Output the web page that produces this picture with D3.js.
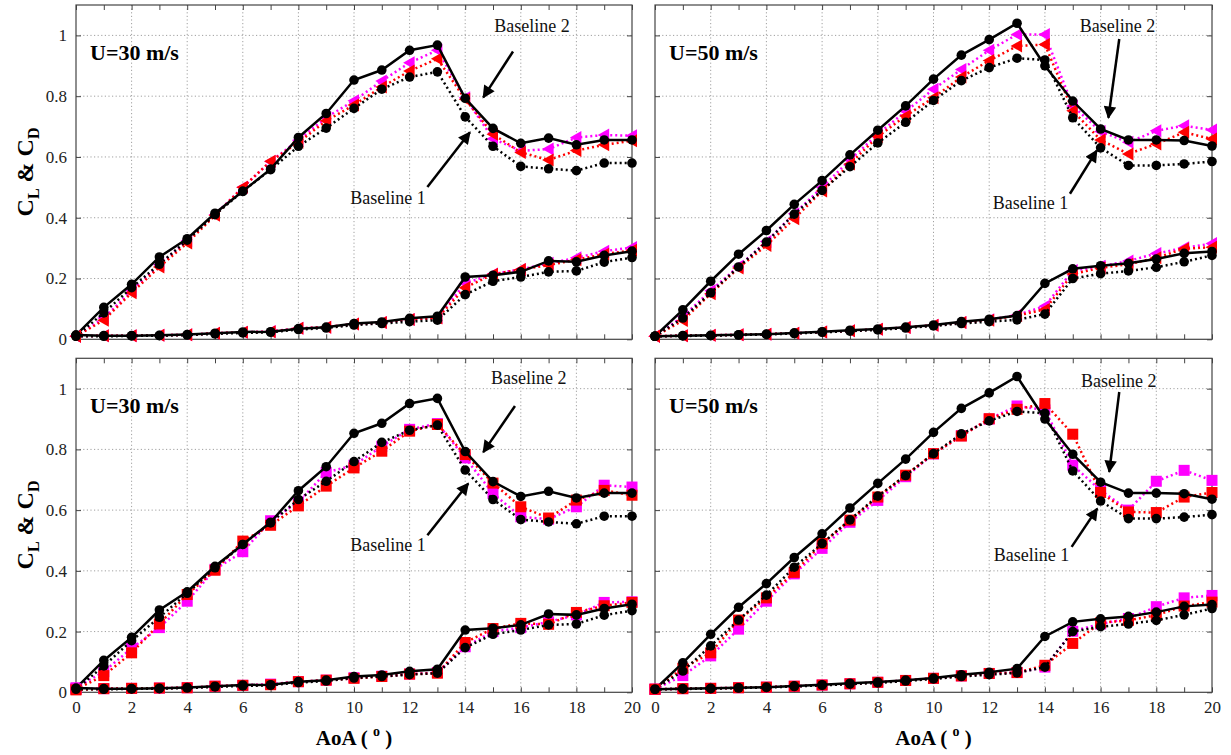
<!DOCTYPE html>
<html>
<head>
<meta charset="utf-8">
<script src="https://cdn.jsdelivr.net/npm/d3@7/dist/d3.min.js"></script>
<style>
  html, body { margin: 0; padding: 0; background: #fff; }
  svg { display: block; }
</style>
</head>
<body>
<svg id="chart" width="1231" height="755"></svg>
<script>
const SERIF = '"Liberation Serif", "Times New Roman", "DejaVu Serif", serif';

// Angle of attack (degrees)
const aoa = d3.range(0, 21);

// ---- U = 30 m/s baselines ----
const base1Cl30 = [0.01, 0.087, 0.17, 0.247, 0.326, 0.41, 0.487, 0.558, 0.635, 0.695, 0.76, 0.823, 0.863, 0.88, 0.732, 0.635, 0.569, 0.561, 0.555, 0.58, 0.58];
const base2Cl30 = [0.014, 0.105, 0.181, 0.271, 0.331, 0.415, 0.487, 0.56, 0.664, 0.743, 0.853, 0.886, 0.951, 0.968, 0.793, 0.694, 0.645, 0.662, 0.64, 0.656, 0.656];
const base1Cd30 = [0.01, 0.01, 0.011, 0.012, 0.014, 0.018, 0.021, 0.023, 0.032, 0.037, 0.047, 0.052, 0.058, 0.063, 0.147, 0.191, 0.205, 0.222, 0.225, 0.254, 0.269];
const base2Cd30 = [0.014, 0.012, 0.012, 0.013, 0.016, 0.02, 0.024, 0.025, 0.035, 0.04, 0.052, 0.057, 0.069, 0.076, 0.205, 0.211, 0.222, 0.258, 0.255, 0.276, 0.29];

// ---- U = 50 m/s baselines ----
const base1Cl50 = [0.01, 0.07, 0.153, 0.238, 0.32, 0.412, 0.49, 0.568, 0.646, 0.714, 0.786, 0.851, 0.894, 0.925, 0.919, 0.729, 0.63, 0.572, 0.572, 0.577, 0.585];
const base2Cl50 = [0.01, 0.097, 0.191, 0.28, 0.358, 0.444, 0.522, 0.607, 0.688, 0.768, 0.856, 0.935, 0.986, 1.04, 0.9, 0.784, 0.692, 0.656, 0.656, 0.654, 0.636];
const base1Cd50 = [0.01, 0.011, 0.012, 0.014, 0.016, 0.019, 0.023, 0.027, 0.031, 0.037, 0.044, 0.052, 0.058, 0.064, 0.083, 0.2, 0.216, 0.225, 0.237, 0.255, 0.276];
const base2Cd50 = [0.01, 0.012, 0.013, 0.015, 0.017, 0.021, 0.025, 0.03, 0.034, 0.04, 0.047, 0.058, 0.066, 0.078, 0.184, 0.232, 0.242, 0.25, 0.264, 0.283, 0.289];

// ---- Triangle-marker cases ----
const triRedCl30 = [0.01, 0.063, 0.153, 0.238, 0.317, 0.408, 0.5, 0.586, 0.648, 0.719, 0.771, 0.83, 0.883, 0.923, 0.79, 0.675, 0.615, 0.59, 0.621, 0.64, 0.653];
const triMagCl30 = [0.01, 0.07, 0.16, 0.245, 0.325, 0.41, 0.5, 0.585, 0.655, 0.73, 0.785, 0.85, 0.91, 0.951, 0.795, 0.66, 0.62, 0.626, 0.664, 0.672, 0.67];
const triRedCd30 = [0.01, 0.012, 0.012, 0.013, 0.015, 0.02, 0.023, 0.025, 0.036, 0.04, 0.05, 0.055, 0.065, 0.07, 0.17, 0.214, 0.23, 0.244, 0.262, 0.28, 0.293];
const triMagCd30 = [0.01, 0.012, 0.012, 0.013, 0.015, 0.02, 0.023, 0.026, 0.036, 0.04, 0.05, 0.055, 0.065, 0.072, 0.184, 0.215, 0.23, 0.25, 0.268, 0.29, 0.302];

const triRedCl50 = [0.01, 0.062, 0.15, 0.235, 0.309, 0.397, 0.488, 0.577, 0.667, 0.735, 0.795, 0.863, 0.917, 0.965, 0.97, 0.752, 0.656, 0.61, 0.643, 0.681, 0.659];
const triMagCl50 = [0.01, 0.075, 0.16, 0.24, 0.322, 0.413, 0.5, 0.59, 0.675, 0.75, 0.823, 0.888, 0.951, 1.003, 1.003, 0.768, 0.684, 0.648, 0.686, 0.703, 0.689];
const triRedCd50 = [0.01, 0.012, 0.013, 0.015, 0.017, 0.02, 0.024, 0.028, 0.033, 0.039, 0.046, 0.055, 0.063, 0.078, 0.098, 0.215, 0.235, 0.247, 0.268, 0.298, 0.303];
const triMagCd50 = [0.01, 0.012, 0.013, 0.015, 0.017, 0.02, 0.024, 0.028, 0.033, 0.039, 0.046, 0.055, 0.064, 0.08, 0.109, 0.226, 0.24, 0.258, 0.282, 0.301, 0.315];

// ---- Square-marker cases ----
const sqRedCl30 = [0.01, 0.055, 0.13, 0.225, 0.322, 0.402, 0.498, 0.55, 0.614, 0.679, 0.739, 0.794, 0.86, 0.882, 0.783, 0.689, 0.611, 0.574, 0.633, 0.665, 0.649];
const sqMagCl30 = [0.015, 0.068, 0.145, 0.213, 0.3, 0.405, 0.463, 0.565, 0.627, 0.724, 0.748, 0.81, 0.866, 0.885, 0.772, 0.655, 0.578, 0.57, 0.611, 0.682, 0.676];
const sqRedCd30 = [0.008, 0.012, 0.013, 0.014, 0.015, 0.02, 0.023, 0.025, 0.035, 0.04, 0.046, 0.052, 0.06, 0.063, 0.164, 0.21, 0.227, 0.224, 0.263, 0.285, 0.296];
const sqMagCd30 = [0.012, 0.012, 0.013, 0.014, 0.015, 0.02, 0.023, 0.027, 0.035, 0.04, 0.048, 0.053, 0.06, 0.065, 0.15, 0.2, 0.213, 0.232, 0.255, 0.296, 0.298];

const sqRedCl50 = [0.01, 0.079, 0.13, 0.238, 0.311, 0.395, 0.49, 0.567, 0.643, 0.715, 0.786, 0.844, 0.901, 0.932, 0.951, 0.85, 0.658, 0.594, 0.592, 0.643, 0.658];
const sqMagCl50 = [0.01, 0.055, 0.12, 0.208, 0.3, 0.39, 0.474, 0.56, 0.632, 0.71, 0.785, 0.845, 0.9, 0.943, 0.93, 0.748, 0.665, 0.6, 0.695, 0.731, 0.698];
const sqRedCd50 = [0.01, 0.012, 0.013, 0.015, 0.017, 0.02, 0.024, 0.028, 0.033, 0.039, 0.046, 0.054, 0.062, 0.065, 0.089, 0.161, 0.229, 0.237, 0.254, 0.284, 0.297];
const sqMagCd50 = [0.01, 0.012, 0.013, 0.015, 0.017, 0.02, 0.024, 0.028, 0.033, 0.039, 0.046, 0.054, 0.062, 0.065, 0.083, 0.201, 0.225, 0.243, 0.282, 0.311, 0.319];

// Axis ticks
const xTicks = d3.range(0, 21, 1);
const xGrid = d3.range(2, 20, 2);
const yTicks = [0, 0.2, 0.4, 0.6, 0.8, 1];
const yGrid = [0.2, 0.4, 0.6, 0.8, 1];

// Panel layout (pixel boxes) and the data each panel shows
const panels = [
  { box: [76, 632, 5, 339.3], speed: "U=30 m/s", marker: "tri",
    b1: [base1Cl30, base1Cd30], b2: [base2Cl30, base2Cd30],
    red: [triRedCl30, triRedCd30], mag: [triMagCl30, triMagCd30],
    yLabels: true, xLabels: false,
    notes: { b2Text: [16.4, 1.025], b2Arrow: [[15.72, 0.947], [14.65, 0.796]],
             b1Text: [11.22, 0.46], b1Arrow: [[12.64, 0.501], [14.17, 0.681]] } },
  { box: [655, 1212, 5, 339.3], speed: "U=50 m/s", marker: "tri",
    b1: [base1Cl50, base1Cd50], b2: [base2Cl50, base2Cd50],
    red: [triRedCl50, triRedCd50], mag: [triMagCl50, triMagCd50],
    yLabels: false, xLabels: false,
    notes: { b2Text: [16.61, 1.025], b2Arrow: [[16.67, 0.988], [16.28, 0.729]],
             b1Text: [13.48, 0.441], b1Arrow: [[14.9, 0.479], [15.86, 0.621]] } },
  { box: [76, 632, 358.3, 692.3], speed: "U=30 m/s", marker: "sq",
    b1: [base1Cl30, base1Cd30], b2: [base2Cl30, base2Cd30],
    red: [sqRedCl30, sqRedCd30], mag: [sqMagCl30, sqMagCd30],
    yLabels: true, xLabels: true,
    notes: { b2Text: [16.29, 1.03], b2Arrow: [[15.79, 0.943], [14.65, 0.791]],
             b1Text: [11.22, 0.479], b1Arrow: [[12.64, 0.517], [14.11, 0.688]] } },
  { box: [655, 1212, 358.3, 692.3], speed: "U=50 m/s", marker: "sq",
    b1: [base1Cl50, base1Cd50], b2: [base2Cl50, base2Cd50],
    red: [sqRedCl50, sqRedCd50], mag: [sqMagCl50, sqMagCd50],
    yLabels: false, xLabels: true,
    notes: { b2Text: [16.65, 1.02], b2Arrow: [[16.67, 0.989], [16.31, 0.726]],
             b1Text: [13.52, 0.446], b1Arrow: [[14.96, 0.479], [15.88, 0.605]] } }
];

const svg = d3.select("#chart");

svg.append("defs").append("marker")
  .attr("id", "arrowHead")
  .attr("viewBox", "0 0 10 10")
  .attr("refX", 9).attr("refY", 5)
  .attr("markerWidth", 6).attr("markerHeight", 5)
  .attr("markerUnits", "strokeWidth")
  .attr("orient", "auto")
  .append("path").attr("d", "M0,0 L10,5 L0,10 Z").attr("fill", "#000");

const triPath = "M-6.5,0 L5,-6.5 L5,6.5 Z";

panels.forEach(p => {
  const [x0, x1, y0, y1] = p.box;
  const x = d3.scaleLinear().domain([0, 20]).range([x0, x1]);
  const y = d3.scaleLinear().domain([0, 1.1]).range([y1, y0]);
  const g = svg.append("g");

  // grid
  g.append("g").selectAll("line").data(xGrid).join("line")
    .attr("x1", d => x(d)).attr("x2", d => x(d)).attr("y1", y0).attr("y2", y1)
    .attr("stroke", "#a0a0a0").attr("stroke-width", 1).attr("stroke-dasharray", "1.2,2.4");
  g.append("g").selectAll("line").data(yGrid).join("line")
    .attr("x1", x0).attr("x2", x1).attr("y1", d => y(d)).attr("y2", d => y(d))
    .attr("stroke", "#a0a0a0").attr("stroke-width", 1).attr("stroke-dasharray", "1.2,2.4");

  // axes with inward ticks
  const axB = g.append("g").attr("transform", `translate(0,${y1})`)
    .call(d3.axisBottom(x).tickValues(xTicks).tickSize(-5).tickPadding(9)
      .tickFormat(d => (p.xLabels && d % 2 === 0) ? d : ""));
  const axT = g.append("g").attr("transform", `translate(0,${y0})`)
    .call(d3.axisTop(x).tickValues(xTicks).tickSize(-5).tickFormat(""));
  const axL = g.append("g").attr("transform", `translate(${x0},0)`)
    .call(d3.axisLeft(y).tickValues(yTicks).tickSize(-5).tickPadding(9)
      .tickFormat(d => p.yLabels ? d3.format("")(d) : ""));
  const axR = g.append("g").attr("transform", `translate(${x1},0)`)
    .call(d3.axisRight(y).tickValues(yTicks).tickSize(-5).tickFormat(""));
  [axB, axT, axL, axR].forEach(a => {
    a.select(".domain").remove();
    a.selectAll(".tick line").attr("stroke", "#444").attr("stroke-width", 1);
    a.selectAll(".tick text").style("font-family", SERIF)
      .style("font-size", "17px").attr("fill", "#222");
  });
  axB.selectAll(".tick text").attr("dy", "0.71em");

  // frame
  g.append("rect").attr("x", x0).attr("y", y0).attr("width", x1 - x0).attr("height", y1 - y0)
    .attr("fill", "none").attr("stroke", "#444").attr("stroke-width", 1.2);

  const line = d3.line().x((d, i) => x(aoa[i])).y(d => y(d));

  function drawSeries(vals, color, dashed, kind) {
    const sg = g.append("g");
    sg.append("path").datum(vals).attr("d", line)
      .attr("fill", "none").attr("stroke", color).attr("stroke-width", 2.5)
      .attr("stroke-dasharray", dashed ? "2,3" : null);
    const pts = sg.selectAll(".m").data(vals).join("g")
      .attr("transform", (d, i) => `translate(${x(aoa[i])},${y(d)})`);
    if (kind === "circle") {
      pts.append("circle").attr("r", 4.8).attr("fill", color);
    } else if (kind === "tri") {
      pts.append("path").attr("d", triPath).attr("fill", color);
    } else {
      pts.append("rect").attr("x", -5.5).attr("y", -5.5).attr("width", 11).attr("height", 11)
        .attr("fill", color);
    }
  }

  // lift (index 0) and drag (index 1) curves
  [0, 1].forEach(k => {
    drawSeries(p.mag[k], "#ff00ff", true, p.marker);
    drawSeries(p.red[k], "#ff0000", true, p.marker);
    drawSeries(p.b1[k], "#000", true, "circle");
    drawSeries(p.b2[k], "#000", false, "circle");
  });

  // speed label
  g.append("text").attr("x", x0 + 14).attr("y", y(0.935))
    .style("font-family", SERIF).style("font-size", "22px").style("font-weight", "bold")
    .attr("fill", "#000").attr("dominant-baseline", "middle").text(p.speed);

  // annotations
  const n = p.notes;
  [["Baseline 2", n.b2Text, n.b2Arrow], ["Baseline 1", n.b1Text, n.b1Arrow]].forEach(([t, pos, arr]) => {
    g.append("text").attr("x", x(pos[0])).attr("y", y(pos[1]))
      .attr("text-anchor", "middle").attr("dominant-baseline", "middle")
      .style("font-family", SERIF).style("font-size", "18px").attr("fill", "#111").text(t);
    g.append("line")
      .attr("x1", x(arr[0][0])).attr("y1", y(arr[0][1]))
      .attr("x2", x(arr[1][0])).attr("y2", y(arr[1][1]))
      .attr("stroke", "#000").attr("stroke-width", 2.5)
      .attr("marker-end", "url(#arrowHead)");
  });
});

// y-axis titles
[172, 525].forEach(cy => {
  const t = svg.append("text").attr("transform", `translate(33,${cy}) rotate(-90)`)
    .attr("text-anchor", "middle")
    .style("font-family", SERIF).style("font-size", "24px").style("font-weight", "bold")
    .attr("fill", "#000");
  t.append("tspan").text("C");
  t.append("tspan").style("font-size", "16px").attr("dy", 6).text("L");
  t.append("tspan").attr("dy", -6).text(" & C");
  t.append("tspan").style("font-size", "16px").attr("dy", 6).text("D");
});

// x-axis titles
[354, 933.5].forEach(cx => {
  const t = svg.append("text").attr("x", cx).attr("y", 745)
    .attr("text-anchor", "middle")
    .style("font-family", SERIF).style("font-size", "21px").style("font-weight", "bold")
    .attr("fill", "#000");
  t.append("tspan").text("AoA ( ");
  t.append("tspan").style("font-size", "14px").attr("dy", -9).text("o");
  t.append("tspan").attr("dy", 9).text(" )");
});
</script>
</body>
</html>
